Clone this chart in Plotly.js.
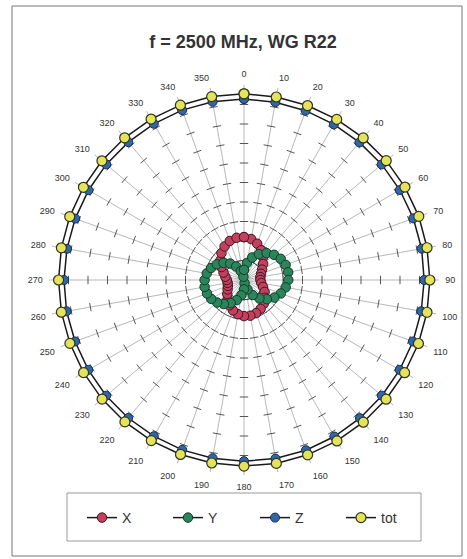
<!DOCTYPE html>
<html>
<head>
<meta charset="utf-8">
<script src="https://cdn.plot.ly/plotly-3.0.1.min.js"></script>
<style>html,body{margin:0;padding:0;background:#fff;}#chart{width:467px;height:559px;}</style>
</head>
<body>
<div id="chart"></div>
<script>
// Angles (degrees, clockwise from top)
const angles = [0,10,20,30,40,50,60,70,80,90,100,110,120,130,140,150,160,170,
                180,190,200,210,220,230,240,250,260,270,280,290,300,310,320,330,340,350];
const angleLabels = ["0","10","20","30","40","50","60","70","80","90","100","110","120","130","140","150","160","170",
                "180","190","200","210","220","230","240","250","260","270","280","290","300","310","320","330","340","350"];

// Series values
const seriesX = [0.220,0.213,0.198,0.176,0.152,0.128,0.107,0.093,0.085,0.084,0.090,0.104,0.122,0.141,0.158,0.171,0.181,0.186,
                 0.185,0.178,0.166,0.150,0.131,0.112,0.097,0.088,0.085,0.088,0.097,0.112,0.133,0.157,0.180,0.199,0.213,0.220];
const seriesY = [0.052,0.089,0.123,0.153,0.180,0.201,0.217,0.227,0.230,0.227,0.217,0.201,0.180,0.153,0.123,0.089,0.052,0.017,
                 0.048,0.080,0.110,0.137,0.161,0.180,0.194,0.202,0.205,0.202,0.194,0.180,0.161,0.137,0.110,0.080,0.048,0.017];
const seriesZ = [0.928,0.926,0.924,0.922,0.921,0.922,0.923,0.924,0.925,0.924,0.923,0.922,0.922,0.923,0.925,0.927,0.929,0.930,
                 0.929,0.928,0.927,0.925,0.924,0.923,0.922,0.922,0.924,0.923,0.922,0.921,0.921,0.922,0.923,0.925,0.927,0.928];
const seriesTot = [0.955,0.953,0.952,0.951,0.951,0.952,0.953,0.954,0.953,0.953,0.953,0.952,0.951,0.951,0.952,0.953,0.954,0.955,
                   0.954,0.953,0.952,0.951,0.950,0.950,0.950,0.950,0.951,0.951,0.951,0.951,0.951,0.951,0.952,0.953,0.954,0.955];

// Radial tick marks drawn along every spoke
const spokeTickRadii = [0.1,0.2,0.3,0.4,0.5,0.6,0.7,0.8,0.9];

const tickR = [], tickT = [], tickA = [];
spokeTickRadii.forEach(r => angles.forEach(a => { tickR.push(r); tickT.push(a); tickA.push(a); }));

function closeArr(a){ return a.concat([a[0]]); }

const lineCol = '#1a1a1a';
const traces = [
  {type:'scatterpolar', r: tickR, theta: tickT, mode:'markers', showlegend:false, hoverinfo:'skip',
   marker:{symbol:'line-ew', size:6, angle: tickA, line:{color:'#555', width:1}}},
  {type:'scatterpolar', name:'X', legend:'legend', r: closeArr(seriesX), theta: closeArr(angles), mode:'lines+markers',
   line:{color:lineCol, width:1.5}, marker:{size:9.5, color:'#c4405e', line:{color:'#3a1a22', width:1}}},
  {type:'scatterpolar', name:'Y', legend:'legend2', r: closeArr(seriesY), theta: closeArr(angles), mode:'lines+markers',
   line:{color:lineCol, width:1.5}, marker:{size:9.5, color:'#2a855c', line:{color:'#163a28', width:1}}},
  {type:'scatterpolar', name:'Z', legend:'legend3', r: closeArr(seriesZ), theta: closeArr(angles), mode:'lines+markers',
   line:{color:lineCol, width:1.5}, marker:{size:9, color:'#2e68aa', line:{color:'#1a2a44', width:1}}},
  {type:'scatterpolar', name:'tot', legend:'legend4', r: closeArr(seriesTot), theta: closeArr(angles), mode:'lines+markers',
   line:{color:lineCol, width:1.5}, marker:{size:10, color:'#e4e45a', line:{color:'#333322', width:1.2}}}
];

const W = 467, H = 559, cx = 244, cy = 280, R = 195;
function leg(xMarker){
  return {x:(xMarker-22)/W, xanchor:'left', y:1-518/H, yanchor:'middle', borderwidth:0,
          bgcolor:'rgba(0,0,0,0)', font:{size:14, color:'#333'}};
}
const layout = {
  width: W, height: H,
  margin:{l:0,r:0,t:0,b:0, autoexpand:false},
  paper_bgcolor:'#fff',
  font:{family:'Arial, Liberation Sans, sans-serif', color:'#333'},
  title:{text:'<b>f = 2500 MHz, WG R22</b>', font:{size:18, color:'#333', family:'Arial, Liberation Sans, sans-serif'},
         x: 243/W, xanchor:'center', y: 1-42/H, yanchor:'middle'},
  polar:{
    domain:{x:[(cx-R)/W,(cx+R)/W], y:[(H-cy-R)/H,(H-cy+R)/H]},
    bgcolor:'#fff',
    radialaxis:{range:[0,1], showgrid:false, showticklabels:false, showline:false, ticks:''},
    angularaxis:{direction:'clockwise', rotation:90, tickmode:'array', tickvals: angles, ticktext: angleLabels,
      showline:false, gridcolor:'#9a9a9a', gridwidth:0.7, ticks:'outside', ticklen:4, tickcolor:'rgba(0,0,0,0)',
      tickfont:{size:9, color:'#333'}}
  },
  showlegend:true,
  legend: leg(104),
  legend2: leg(190),
  legend3: leg(277),
  legend4: leg(363),
  shapes:[
    {type:'rect', xref:'paper', yref:'paper', x0:12/W, x1:462/W, y0:1-556/H, y1:1-6/H, line:{color:'#777', width:1}},
    {type:'rect', xref:'paper', yref:'paper', x0:67/W, x1:421/W, y0:1-541/H, y1:1-493/H, line:{color:'#999', width:1}}
  ]
};
Plotly.newPlot('chart', traces, layout, {displayModeBar:false, staticPlot:true});
</script>
</body>
</html>
